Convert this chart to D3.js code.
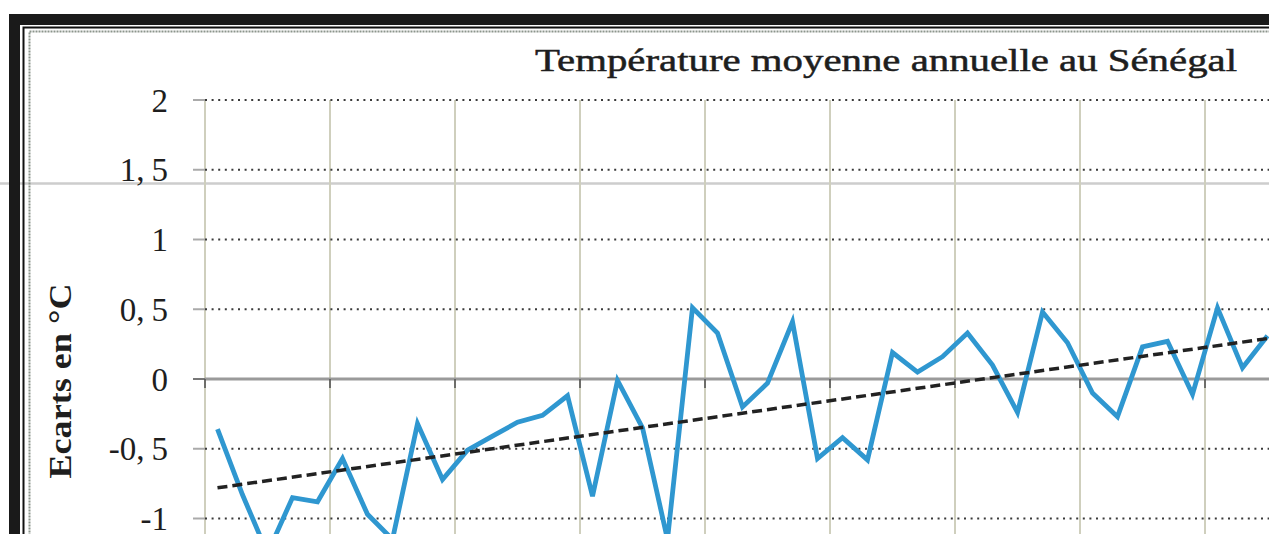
<!DOCTYPE html>
<html>
<head>
<meta charset="utf-8">
<script src="https://cdn.jsdelivr.net/npm/d3@7"></script>
<style>
  html, body { margin: 0; padding: 0; background: #fff; overflow: hidden; }
  svg { display: block; }
  text { font-family: "Liberation Serif", "Times New Roman", serif; fill: #1e1e1e; }
</style>
</head>
<body>
<svg id="chart" width="1269" height="534"></svg>
<script>
// Annual mean temperature anomalies (°C) for Senegal
const years = [1950, 1951, 1952, 1953, 1954, 1955, 1956, 1957, 1958, 1959,
               1960, 1961, 1962, 1963, 1964, 1965, 1966, 1967, 1968, 1969,
               1970, 1971, 1972, 1973, 1974, 1975, 1976, 1977, 1978, 1979,
               1980, 1981, 1982, 1983, 1984, 1985, 1986, 1987, 1988, 1989,
               1990, 1991, 1992];
const anomalies = [-0.36, -0.83, -1.25, -0.85, -0.88, -0.57, -0.97, -1.15, -0.32, -0.72,
                   -0.51, -0.41, -0.31, -0.26, -0.12, -0.84, -0.01, -0.35, -1.15, 0.51,
                    0.33, -0.20, -0.03, 0.41, -0.57, -0.42, -0.58, 0.19, 0.05, 0.16,
                    0.33, 0.10, -0.24, 0.48, 0.26, -0.10, -0.27, 0.23, 0.27, -0.11,
                    0.51, 0.08, 0.31];
// Linear trend: value at the first and at the last year
const trendYears = [1950, 1992];
const trendValues = [-0.78, 0.29];

const yTicks = [-1, -0.5, 0, 0.5, 1, 1.5, 2];
const yTickLabels = ["-1", "-0,5", "0", "0,5", "1", "1,5", "2"];
const chartTitle = "Température moyenne annuelle au Sénégal";
const yAxisTitle = "Ecarts en °C";

const svg = d3.select("#chart");
const W = 1269, H = 534;

const plot = { left: 205, top: 100, band: 25 };
const x = d3.scaleBand()
  .domain(years)
  .range([plot.left, plot.left + plot.band * years.length])
  .paddingInner(0).paddingOuter(0);
const y = d3.scaleLinear().domain([-2, 2]).range([658, plot.top]);
const cx = yr => x(yr) + x.bandwidth() / 2;

// light grey fold line across the sheet
svg.append("line")
  .attr("x1", 0).attr("x2", W).attr("y1", 183.5).attr("y2", 183.5)
  .attr("stroke", "#cdcdcd").attr("stroke-width", 2.5);

// chart frame: heavy outer border, thin inner rule, grey inner edge
const frame = svg.append("g");
frame.append("rect")
  .attr("x", 14.5).attr("y", 19.5).attr("width", 1500).attr("height", 900)
  .attr("fill", "none").attr("stroke", "#1a1a1a").attr("stroke-width", 11);
frame.append("rect")
  .attr("x", 23.5).attr("y", 27.5).attr("width", 1500).attr("height", 900)
  .attr("fill", "none").attr("stroke", "#111").attr("stroke-width", 2);
frame.append("rect")
  .attr("x", 29.5).attr("y", 31.5).attr("width", 1500).attr("height", 900)
  .attr("fill", "none").attr("stroke", "#8c958c").attr("stroke-width", 2)
  .attr("stroke-dasharray", "2,1");

// vertical gridlines every five years
const gridYears = years.filter((d, i) => i % 5 === 0);
svg.append("g").selectAll("line")
  .data(gridYears)
  .join("line")
  .attr("x1", d => x(d)).attr("x2", d => x(d))
  .attr("y1", y(2)).attr("y2", y(-2))
  .attr("stroke", "#cfcfbd").attr("stroke-width", 2);

// horizontal dotted gridlines
svg.append("g").selectAll("line")
  .data(yTicks.filter(v => v !== 0))
  .join("line")
  .attr("x1", plot.left).attr("x2", W + 50)
  .attr("y1", d => y(d)).attr("y2", d => y(d))
  .attr("stroke", "#3a3a3a").attr("stroke-width", 2)
  .attr("stroke-dasharray", "2,4.6");

// y-axis tick marks and labels
const yAxis = svg.append("g");
yAxis.selectAll("line")
  .data(yTicks)
  .join("line")
  .attr("x1", plot.left - 12).attr("x2", plot.left)
  .attr("y1", d => y(d)).attr("y2", d => y(d))
  .attr("stroke", d => d === 0 ? "#777" : "#aaa").attr("stroke-width", 2);

const labels = yAxis.selectAll("text")
  .data(yTicks)
  .join("text")
  .attr("x", 168)
  .attr("y", d => y(d))
  .attr("dy", "0.35em")
  .attr("text-anchor", "end")
  .attr("font-size", 33);
labels.each(function (d, i) {
  const parts = yTickLabels[i].split(",");
  const t = d3.select(this);
  if (parts.length === 1) {
    t.text(parts[0]);
  } else {
    t.append("tspan").text(parts[0] + ",");
    t.append("tspan").attr("dx", 7).text(parts[1]);
  }
});

// zero line with category tick marks
svg.append("line")
  .attr("x1", plot.left).attr("x2", W + 50)
  .attr("y1", y(0)).attr("y2", y(0))
  .attr("stroke", "#9a9a9a").attr("stroke-width", 3);
svg.append("g").selectAll("line")
  .data(gridYears)
  .join("line")
  .attr("x1", d => x(d)).attr("x2", d => x(d))
  .attr("y1", y(0)).attr("y2", y(0) + 9)
  .attr("stroke", "#555").attr("stroke-width", 1.6);

// anomaly series
const line = d3.line()
  .x((d, i) => cx(years[i]))
  .y(d => y(d));
svg.append("path")
  .datum(anomalies)
  .attr("d", line)
  .attr("fill", "none")
  .attr("stroke", "#2f97d0")
  .attr("stroke-width", 4.8)
  .attr("stroke-linejoin", "miter");

// linear trend
const trendLine = d3.line()
  .x((d, i) => cx(trendYears[i]))
  .y(d => y(d));
svg.append("path")
  .datum(trendValues)
  .attr("d", trendLine)
  .attr("fill", "none")
  .attr("stroke", "#222")
  .attr("stroke-width", 3.5)
  .attr("stroke-dasharray", "10,5");

// titles
svg.append("text")
  .attr("x", 535).attr("y", 71)
  .attr("font-size", 32)
  .attr("textLength", 702)
  .attr("lengthAdjust", "spacingAndGlyphs")
  .attr("stroke", "#1e1e1e").attr("stroke-width", 0.5)
  .text(chartTitle);

svg.append("text")
  .attr("transform", "translate(71,381) rotate(-90)")
  .attr("text-anchor", "middle")
  .attr("font-size", 31)
  .attr("font-weight", "bold")
  .attr("textLength", 195)
  .attr("lengthAdjust", "spacingAndGlyphs")
  .text(yAxisTitle);
</script>
</body>
</html>
